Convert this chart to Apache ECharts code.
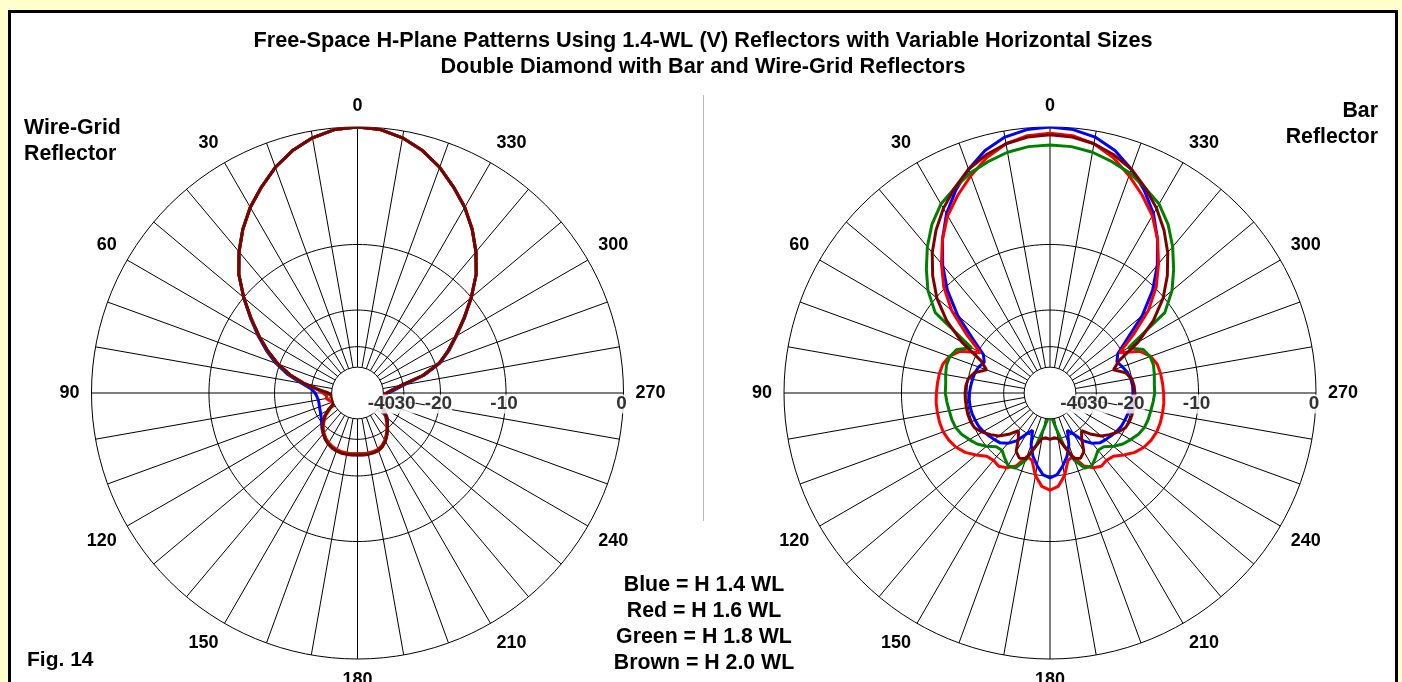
<!DOCTYPE html>
<html><head><meta charset="utf-8">
<script src="https://cdn.jsdelivr.net/npm/echarts@6/dist/echarts.min.js"></script>
<style>html,body{margin:0;padding:0;background:#FFFFCC;}#c{width:1402px;height:682px;}</style>
</head><body><div id="c"></div>
<script>
// ---------- data ----------
const angles = [0,5,10,15,20,25,30,35,40,45,50,55,60,65,70,75,80,85,90,95,100,105,110,115,120,125,130,135,140,145,150,155,160,165,170,175,180,185,190,195,200,205,210,215,220,225,230,235,240,245,250,255,260,265,270,275,280,285,290,295,300,305,310,315,320,325,330,335,340,345,350,355,360];

// Wire-Grid reflector (left plot), dB
const wireBlue = [0,-0.1,-0.45,-1.0,-1.75,-2.7,-3.7,-4.9,-6.3,-7.9,-10.0,-12.2,-14.4,-16.7,-19.2,-22.3,-26.5,-30,-31.5,-32.2,-32.6,-32.6,-32.3,-32,-31.5,-30.8,-29.8,-28.6,-27.6,-26.8,-26.1,-25.6,-25.3,-25.1,-25.1,-25.2,-25.3,-25.2,-25.1,-25.2,-25.4,-26.0,-27.0,-28.4,-30.0,-31.5,-33,-35.5,-38.5,-40,-40,-40,-40,-40,-37,-33.5,-29.5,-23.2,-19.0,-16.6,-14.5,-12.2,-10.0,-7.9,-6.3,-4.9,-3.7,-2.7,-1.75,-1.0,-0.45,-0.1,0];
const wireRed = [0,-0.1,-0.45,-1.0,-1.75,-2.7,-3.7,-4.9,-6.3,-7.9,-10.0,-12.3,-14.6,-17.0,-19.7,-23.0,-27.5,-32.5,-35,-37,-36.5,-38,-40,-40,-36.5,-33,-31,-29.2,-28,-27,-26.3,-25.8,-25.5,-25.3,-25.3,-25.3,-25.4,-25.3,-25.3,-25.4,-25.6,-26.2,-27.2,-28.6,-30.2,-32,-34,-36.5,-39.5,-40,-40,-40,-40,-40,-38,-35,-30.5,-23.5,-19.2,-16.8,-14.6,-12.3,-10.0,-7.9,-6.3,-4.9,-3.7,-2.7,-1.75,-1.0,-0.45,-0.1,0];
const wireGreen = [0,-0.1,-0.45,-1.0,-1.75,-2.7,-3.7,-4.9,-6.3,-7.9,-10.0,-12.3,-14.6,-17.0,-19.6,-22.8,-27.2,-33,-37,-39.5,-40,-40,-40,-39,-35.5,-32.5,-30.6,-28.9,-27.7,-26.7,-26.0,-25.5,-25.2,-25.0,-25.0,-25.0,-25.1,-25.0,-25.0,-25.1,-25.3,-25.9,-26.9,-28.3,-29.9,-31.6,-33.6,-36.2,-39.2,-40,-40,-40,-40,-40,-38,-35,-30.5,-23.5,-19.2,-16.8,-14.6,-12.3,-10.0,-7.9,-6.3,-4.9,-3.7,-2.7,-1.75,-1.0,-0.45,-0.1,0];
const wireBrown = [0,-0.1,-0.45,-1.0,-1.75,-2.7,-3.7,-4.9,-6.3,-7.9,-10.0,-12.3,-14.6,-17.0,-19.7,-23.0,-27.5,-33,-38,-40,-40,-40,-40,-39,-35.5,-32.5,-30.5,-28.8,-27.6,-26.6,-25.9,-25.4,-25.1,-24.9,-24.9,-24.9,-25.0,-24.9,-24.9,-25.0,-25.2,-25.8,-26.8,-28.2,-29.8,-31.5,-33.5,-36,-39,-40,-40,-40,-40,-40,-38,-35,-30.5,-23.5,-19.2,-16.8,-14.6,-12.3,-10.0,-7.9,-6.3,-4.9,-3.7,-2.7,-1.75,-1.0,-0.45,-0.1,0];

// Bar reflector (right plot), dB
const barBlue = [0,-0.1,-0.4,-1.0,-1.9,-3.0,-4.3,-6.0,-8.0,-10.4,-13.6,-17.8,-21.3,-22.3,-21.5,-21.1,-20.9,-20.7,-20.5,-20.4,-20.4,-20.5,-20.7,-20.9,-21.3,-21.8,-22.3,-22.8,-24,-26,-29.5,-32,-27,-24,-22,-20.2,-19.6,
  -20.2,-22,-24,-27,-32,-29.5,-26,-24,-22.8,-22.3,-21.8,-21.3,-20.9,-20.7,-20.5,-20.3,-20.1,-20.0,-20.0,-20.2,-20.6,-21.3,-22.0,-21.0,-17.8,-13.6,-10.4,-8.0,-6.0,-4.3,-3.0,-1.9,-1.0,-0.4,-0.1,0];
const barRed = [-0.4,-0.5,-0.85,-1.5,-2.4,-3.4,-4.5,-6.0,-7.8,-9.8,-12.5,-16.5,-20.5,-17,-15.6,-15.0,-14.8,-14.7,-14.6,-14.5,-14.5,-14.5,-14.6,-14.9,-15.4,-16.2,-17.4,-18.7,-19.0,-18.7,-19.3,-20.5,-23.5,-23,-19.8,-17.9,-17.3,
  -17.9,-19.8,-23,-23.5,-20.5,-19.3,-18.7,-19.0,-18.7,-17.4,-16.2,-15.4,-14.9,-14.6,-14.5,-14.5,-14.5,-14.6,-14.7,-14.8,-15.0,-15.6,-17,-20.5,-16.5,-12.5,-9.8,-7.8,-6.0,-4.5,-3.4,-2.4,-1.5,-0.85,-0.5,-0.4];
const barGreen = [-1.2,-1.25,-1.45,-1.8,-2.2,-2.8,-3.4,-4.4,-5.7,-7.2,-8.8,-11,-18.5,-16.3,-15.7,-15.6,-15.8,-16,-16,-16.2,-16.4,-16.5,-16.7,-17.2,-18,-18.8,-20,-21.5,-21.8,-20.8,-19.8,-20,-22.5,-27,-34,-40,-40,
  -40,-34,-27,-22.5,-20,-19.8,-20.8,-21.8,-21.5,-20,-18.8,-18,-17.2,-16.7,-16.5,-16.4,-16.2,-16,-16,-15.8,-15.6,-15.7,-16.3,-18.5,-11,-8.8,-7.2,-5.7,-4.4,-3.4,-2.8,-2.2,-1.8,-1.45,-1.25,-1.2];
const barBrown = [-0.5,-0.6,-0.85,-1.3,-1.9,-2.8,-3.8,-5.0,-6.4,-8.1,-10.1,-12.8,-16.5,-21.5,-23.5,-21,-20,-19.7,-19.6,-19.6,-19.6,-19.6,-19.7,-20,-21,-22.3,-23.7,-26,-29,-27,-23.5,-22.4,-23,-27,-30,-30.5,-30,
  -30.5,-30,-27,-23,-22.4,-23.5,-27,-29,-26,-23.7,-22.3,-21,-20,-19.7,-19.6,-19.6,-19.6,-19.6,-19.7,-20,-21,-23.5,-21.5,-16.5,-12.8,-10.1,-8.1,-6.4,-5.0,-3.8,-2.8,-1.9,-1.3,-0.85,-0.6,-0.5];

const ringDb = [-10, -20, -30];
const radiusTickDb = [0, -10, -20, -30, -40];
const radiusTickLabels = ['0', '-10', '-20', '-30', '-40'];
const angleLabels = ['0','30','60','90','120','150','180','210','240','270','300','330'];
const seriesNames = ['Blue', 'Red', 'Green', 'Brown'];
const seriesColors = ['#0000FF', '#FF0000', '#008000', '#800000'];
const titleLines = ['Free-Space H-Plane Patterns Using 1.4-WL (V) Reflectors with Variable Horizontal Sizes',
                    'Double Diamond with Bar and Wire-Grid Reflectors'];
const legendLines = ['Blue = H 1.4 WL', 'Red = H 1.6 WL', 'Green = H 1.8 WL', 'Brown = H 2.0 WL'];
const plotTitles = [['Wire-Grid', 'Reflector'], ['Bar', 'Reflector']];
const figLabel = 'Fig. 14';

// ---------- ARRL log scale ----------
const DB_MIN = -40;
const U = d => Math.pow(0.89, -Math.max(d, DB_MIN) / 2);
const R_OUT = 266;
const R_IN = R_OUT * U(DB_MIN);
const FONT = '"Liberation Sans", Arial, sans-serif';
const centers = [[357.5, 393], [1050, 393]];
const plotData = [[wireBlue, wireRed, wireGreen, wireBrown], [barBlue, barRed, barGreen, barBrown]];

const polar = [], angleAxis = [], radiusAxis = [], series = [];
centers.forEach((c, i) => {
  polar.push({ center: c, radius: [R_IN, R_OUT] });
  angleAxis.push({
    polarIndex: i, type: 'value', min: 0, max: 360, interval: 10,
    startAngle: 90, clockwise: false,
    axisLine: { show: true, lineStyle: { color: '#000', width: 1 } },
    axisTick: { show: false },
    splitLine: { show: true, lineStyle: { color: '#000', width: 1 } },
    axisLabel: { show: true, margin: 12, color: '#000', fontWeight: 'bold', fontSize: 18, fontFamily: FONT,
      formatter: v => (v < 360 && angleLabels.indexOf(String(v)) >= 0) ? String(v) : '' }
  });
  radiusAxis.push({
    polarIndex: i, type: 'value', min: U(DB_MIN), max: 1,
    axisLine: { show: false }, axisTick: { show: false }, axisLabel: { show: false }, splitLine: { show: false }
  });
  ringDb.forEach(db => {
    const pts = [];
    for (let a = 0; a <= 360; a += 2) pts.push([U(db), a]);
    series.push({ type: 'line', coordinateSystem: 'polar', polarIndex: i, data: pts, symbol: 'none',
      lineStyle: { color: '#000', width: 1 }, silent: true, z: 1 });
  });
  plotData[i].forEach((vals, k) => {
    series.push({ name: seriesNames[k], type: 'line', coordinateSystem: 'polar', polarIndex: i,
      data: vals.map((v, j) => [U(v), angles[j]]), symbol: 'none', smooth: false,
      lineStyle: { color: seriesColors[k], width: 3 }, z: 3 + k * 0.1 });
  });
  series.push({ type: 'scatter', coordinateSystem: 'polar', polarIndex: i, symbolSize: 1,
    itemStyle: { color: 'rgba(0,0,0,0)' }, z: 5, silent: true,
    data: radiusTickDb.map(d => [U(d), 270]),
    label: { show: true, position: 'inside', offset: [-2, 11], color: '#000', fontWeight: 'bold', fontSize: 19,
      fontFamily: FONT, backgroundColor: '#fff', padding: 0,
      formatter: p => radiusTickLabels[p.dataIndex] } });
});

const txt = (text, x, y, align, size) => ({ type: 'text', x, y, z: 10,
  style: { text, fill: '#000', font: 'bold ' + size + 'px ' + FONT, align, verticalAlign: 'middle' } });

const graphic = [
  { type: 'rect', z: -10, shape: { x: 9.5, y: 11.5, width: 1387, height: 700 },
    style: { fill: '#fff', stroke: '#000', lineWidth: 3 } },
  { type: 'line', z: -5, shape: { x1: 703.5, y1: 95, x2: 703.5, y2: 521 }, style: { stroke: '#b8b8b8', lineWidth: 1 } },
  txt(titleLines[0], 703, 41, 'center', 21.7),
  txt(titleLines[1], 703, 67, 'center', 21.7),
  txt(plotTitles[0][0], 24, 128, 'left', 21.3),
  txt(plotTitles[0][1], 24, 154, 'left', 21.3),
  txt(plotTitles[1][0], 1378, 111, 'right', 21.3),
  txt(plotTitles[1][1], 1378, 137, 'right', 21.3),
  txt(figLabel, 27, 660, 'left', 21),
];
legendLines.forEach((t, i) => graphic.push(txt(t, 704, 585 + i * 26, 'center', 21.3)));

const chart = echarts.init(document.getElementById('c'));
chart.setOption({ animation: false, backgroundColor: '#FFFFCC', polar, angleAxis, radiusAxis, series, graphic });
</script></body></html>
